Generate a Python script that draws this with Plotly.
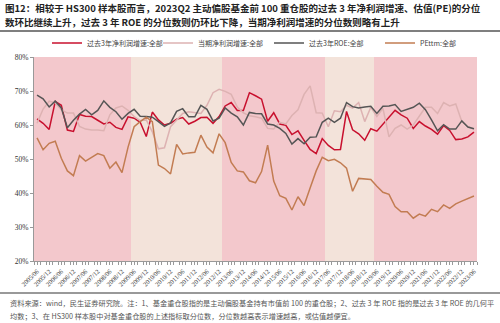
import plotly.graph_objects as go

# ---- data ----
periods = []
for y in range(2005, 2024):
    for m in ("03", "06", "09", "12"):
        p = f"{y}/{m}"
        if "2005/06" <= p <= "2023/06":
            periods.append(p)

net3y = [61.8, 60.5, 58.7, 66.9, 65.8, 58.5, 58.1, 63.1, 62.6, 62.5,
         61.4, 60.3, 60.8, 59.3, 58.7, 62.4, 62.0, 60.8, 56.6, 63.8,
         61.5, 60.0, 60.5, 61.7, 62.2, 60.3, 61.1, 62.2, 62.3, 60.5,
         62.5, 65.6, 66.6, 64.3, 64.3, 69.5, 68.6, 67.6, 61.1, 63.6,
         60.3, 59.9, 57.2, 58.3, 55.5, 52.8, 51.6, 56.0, 54.0, 52.7,
         52.8, 64.0, 58.6, 57.4, 55.5, 58.9, 58.2, 60.2, 62.3, 64.3,
         63.0, 62.0, 59.0, 61.0, 59.7, 58.7, 57.3, 59.8, 58.4, 55.7,
         55.9, 56.5, 57.9]

net_cur = [60.5, 64.7, 67.0, 66.5, 64.5, 63.5, 63.5, 59.6, 58.8, 58.5,
           58.5, 58.3, 63.0, 65.0, 65.6, 64.3, 62.5, 61.3, 61.5, 58.0,
           53.0, 53.3, 59.5, 61.6, 63.4, 63.9, 63.6, 63.4, 65.8, 69.5,
           70.5, 69.9, 69.0, 65.3, 63.6, 62.7, 62.4, 62.0, 59.0, 58.8,
           60.8, 60.3, 62.8, 64.5, 69.0, 71.5, 63.6, 63.5, 59.5, 64.2,
           63.9, 65.8, 65.0, 66.6, 61.0, 65.2, 62.5, 64.9, 56.5, 59.0,
           60.0, 58.8, 60.0, 62.6, 65.2, 65.2, 63.4, 66.6, 65.6, 66.2,
           61.0, 59.5, 58.8]

roe3y = [68.8, 67.7, 65.3, 67.0, 65.0, 59.2, 61.4, 63.2, 64.6, 63.0,
         64.3, 67.1, 65.2, 63.9, 61.7, 63.4, 64.6, 62.6, 62.5, 62.3,
         61.0, 59.6, 60.6, 64.0, 64.8, 62.4, 62.4, 65.8, 64.6, 61.2,
         62.0, 65.0, 63.5, 62.4, 60.0, 63.7, 63.4, 63.3, 60.3, 60.0,
         59.0, 57.5, 54.4, 56.0, 54.5, 56.4, 56.5, 60.8, 62.0, 60.8,
         62.0, 66.6, 65.4, 65.0, 65.3, 65.5, 63.4, 65.5, 65.6, 66.0,
         64.0, 64.5, 65.2, 66.4, 64.5, 61.5, 58.3, 60.1, 58.8, 58.8,
         61.2, 59.4, 58.9]

pettm = [56.2, 52.7, 54.6, 55.2, 50.2, 46.5, 45.1, 51.0, 49.4, 50.5,
         51.6, 51.0, 47.3, 49.1, 46.0, 53.5, 59.5, 61.0, 62.3, 61.0,
         48.2, 47.2, 45.6, 54.3, 51.5, 51.8, 52.0, 57.0, 53.5, 51.8,
         57.4, 54.8, 49.0, 46.5, 46.2, 43.6, 43.0, 46.3, 54.1, 43.5,
         39.2, 38.4, 35.0, 38.9, 36.3, 41.5, 46.5, 50.5, 49.5, 49.9,
         48.9, 47.3, 40.5, 44.3, 44.2, 44.0, 42.0, 40.2, 39.6, 36.0,
         34.5, 34.5, 32.6, 33.8, 33.2, 35.2, 34.5, 36.5, 35.5, 36.8,
         37.6, 38.4, 39.1]

# background regimes (A = pink band, B = beige band), per period
regime_spans = [("A", 16), ("B", 15), ("A", 17), ("B", 8), ("A", 17)]
regimes = [r for r, n in regime_spans for _ in range(n)]

series_names = ["过去3年净利润增速:全部", "当期净利润增速:全部", "过去3年ROE:全部", "PEttm:全部"]
y_ticks = [20, 30, 40, 50, 60, 70, 80]

# ---- style ----
regime_colors = {"A": "#F3C8CC", "B": "#F3E3DA"}
line_colors = ["#C8102E", "#DDB2B2", "#555555", "#C27C52"]
serif = "Liberation Serif"
cjk = "Noto Sans CJK SC"

idx = list(range(len(periods)))

fig = go.Figure()
fig.add_trace(go.Bar(
    x=idx, y=[y_ticks[-1] - y_ticks[0]] * len(idx), base=y_ticks[0],
    width=1, marker=dict(color=[regime_colors[r] for r in regimes], line=dict(width=0)),
    showlegend=False, hoverinfo="skip"))

for name, vals, col in zip(series_names, [net3y, net_cur, roe3y, pettm], line_colors):
    fig.add_trace(go.Scatter(x=idx, y=vals, mode="lines", name=name,
                             line=dict(color=col, width=1.5)))

L, R, T, B = 34, 23, 57, 62
W, H = 500, 323
pw, ph = W - L - R, H - T - B

def px_x(px):
    return (px - L) / pw

def px_y(py):
    return (H - B - py) / ph

fig.update_layout(
    width=W, height=H,
    margin=dict(l=L, r=R, t=T, b=B),
    paper_bgcolor="white", plot_bgcolor="white",
    bargap=0,
    showlegend=True,
    legend=dict(orientation="h", x=px_x(47), xanchor="left", y=px_y(43), yanchor="middle",
                font=dict(family=cjk, size=7, color="#444444"),
                entrywidth=66, entrywidthmode="pixels",
                bgcolor="rgba(0,0,0,0)", itemclick=False),
    xaxis=dict(range=[-0.5, len(idx) - 0.5], tickmode="array",
               tickvals=idx[::2], ticktext=periods[::2], tickangle=-45,
               tickfont=dict(family=serif, size=6.5, color="#333333"),
               showline=True, linecolor="#999999", linewidth=1,
               ticks="outside", ticklen=3, tickcolor="#999999",
               minor=dict(ticks="outside", ticklen=3, dtick=1, tick0=-0.5, tickcolor="#999999"),
               showgrid=False, zeroline=False, fixedrange=True),
    yaxis=dict(range=[y_ticks[0], y_ticks[-1]], tickmode="array", tickvals=y_ticks,
               ticktext=[f"{v}%" for v in y_ticks],
               tickfont=dict(family=serif, size=7.5, color="#333333"),
               showline=True, linecolor="#999999", linewidth=1,
               ticks="outside", ticklen=3, tickcolor="#999999",
               showgrid=False, zeroline=False, fixedrange=True),
)

title1 = "图12：相较于 HS300 样本股而言，2023Q2 主动偏股基金前 100 重仓股的过去 3 年净利润增速、估值(PE)的分位"
title2 = "数环比继续上升，过去 3 年 ROE 的分位数则仍环比下降，当期净利润增速的分位数则略有上升"
note1 = "资料来源：wind，民生证券研究院。注：1、基金重仓股指的是主动偏股基金持有市值前 100 的重仓股；2、过去 3 年 ROE 指的是过去 3 年 ROE 的几何平"
note2 = "均数；3、在 HS300 样本股中对基金重仓股的上述指标取分位数，分位数越高表示增速越高，或估值越便宜。"

for txt, py, sz, col, fam in [(title1, 8, 9.5, "#222222", cjk), (title2, 22, 9.5, "#222222", cjk),
                              (note1, 303, 7.2, "#555555", cjk), (note2, 316, 7.2, "#555555", cjk)]:
    fig.add_annotation(text=f"<b>{txt}</b>" if sz > 9 else txt, xref="paper", yref="paper",
                       x=px_x(3 if sz > 9 else 8), y=px_y(py), xanchor="left", yanchor="middle",
                       showarrow=False, font=dict(family=fam, size=sz, color=col))

for py, col, wd in [(31, "#555555", 1.5), (293, "#777777", 1.5)]:
    fig.add_shape(type="line", xref="paper", yref="paper", x0=px_x(0), x1=px_x(W),
                  y0=px_y(py), y1=px_y(py), line=dict(color=col, width=wd))

fig.write_html("out.html")
